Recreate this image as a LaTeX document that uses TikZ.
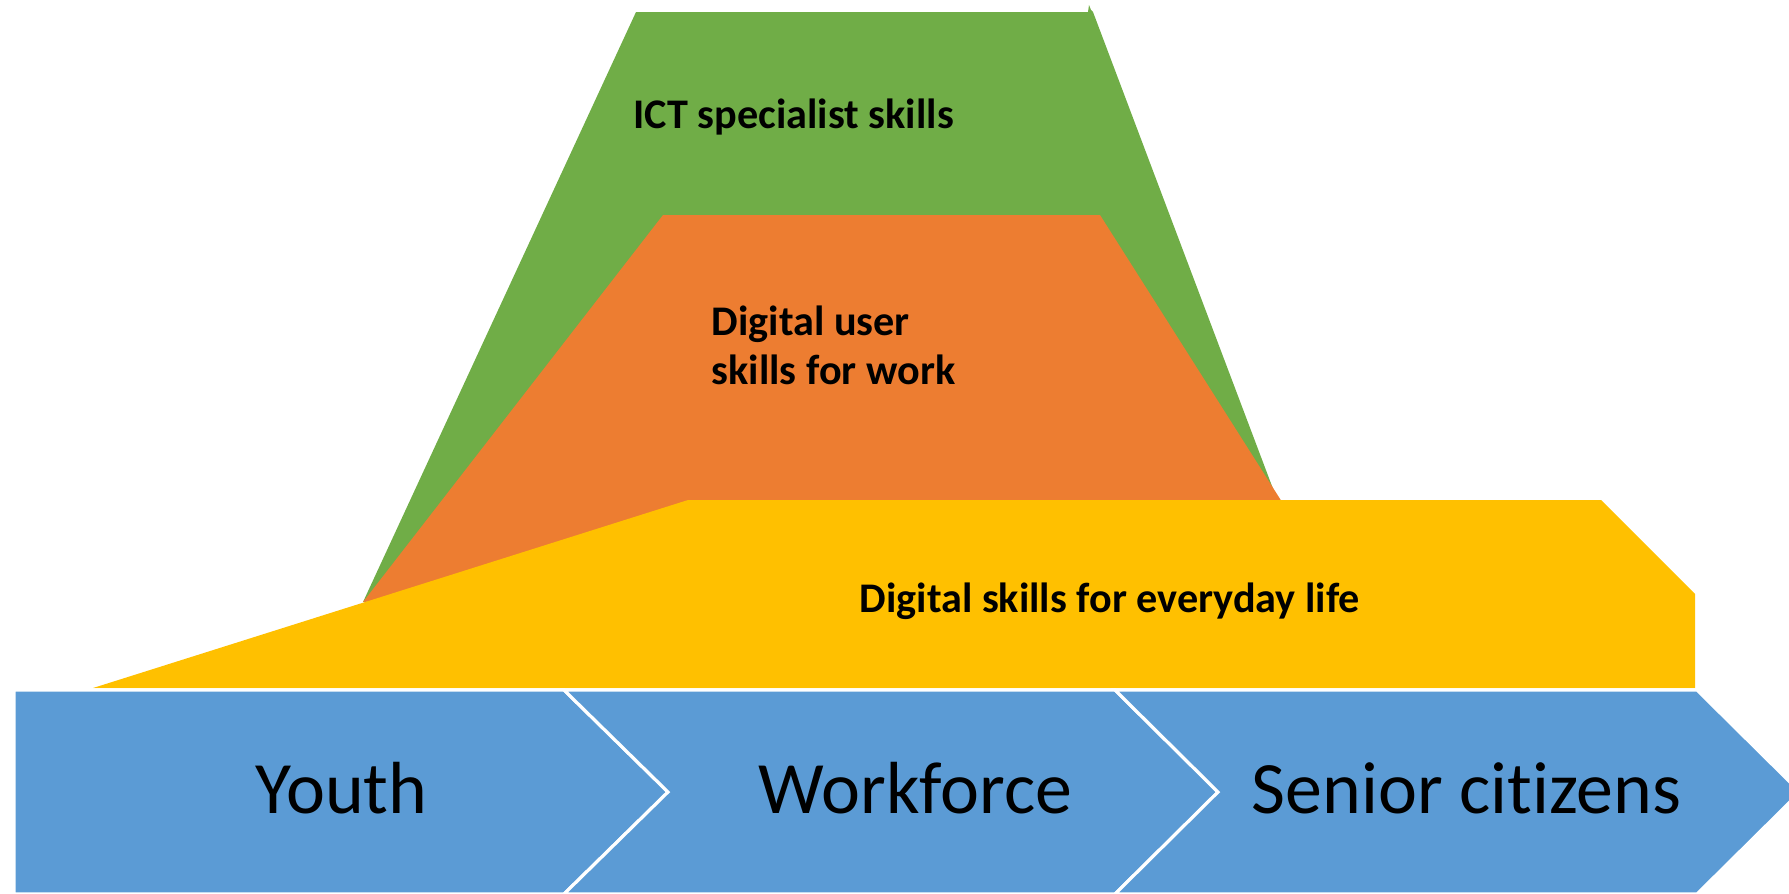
\documentclass[tikz,border=0pt]{standalone}
\usepackage{fontspec}
\setmainfont{Carlito}[Ligatures=NoCommon]
\definecolor{skillGreen}{RGB}{112, 173, 71}
\definecolor{skillOrange}{RGB}{237, 125, 49}
\definecolor{skillYellow}{RGB}{255, 192, 0}
\definecolor{groupBlue}{RGB}{91, 155, 213}

\begin{document}
\begin{tikzpicture}[x=0.01cm, y=-0.01cm,
    skilltext/.style={anchor=base west, inner sep=0pt, text=black, font=\fontsize{12}{13.7}\selectfont\bfseries},
    grouptext/.style={anchor=base west, inner sep=0pt, text=black, font=\fontsize{21}{24}\selectfont},
    chevron/.style={fill=groupBlue, draw=white, line width=0.9pt, line join=miter}]
    \useasboundingbox (0,0) rectangle (1789,893);
    \clip (0,0) rectangle (1789,893);

    % ICT layer
    \fill[skillGreen] (636,12) -- (1088,12) -- (1089,5) -- (1091,10) -- (1093,12) -- (1278,502) -- (363,602) -- cycle;

    % Digital user layer
    \fill[skillOrange] (663,215) -- (1100,215) -- (1282,502) -- (363,602) -- cycle;

    % Everyday layer
    \fill[skillYellow] (93,688) -- (688,500) -- (1601,500) -- (1695,594) -- (1695,688) -- cycle;

    % Groups at the bottom
    \filldraw[chevron] (14,690) -- (564,690) -- (668,792) -- (564,894) -- (14,894) -- cycle;
    \filldraw[chevron] (564,690) -- (1115,690) -- (1218,792) -- (1115,894) -- (564,894) -- (668,792) -- cycle;
    \filldraw[chevron] (1115,690) -- (1697,690) -- (1800,792) -- (1697,894) -- (1115,894) -- (1218,792) -- cycle;

    % Labels
    \node[skilltext] (ict) at (633,128) {ICT specialist skills};
    \node[skilltext, align=left] (user) at (711,384) {Digital user\\skills for work};
    \node[skilltext] (everyday) at (859,612) {Digital skills for everyday life};

    \node[grouptext] (youth) at (255,813) {Youth};
    \node[grouptext] (workforce) at (758,813) {Workforce};
    \node[grouptext] (senior) at (1251,813) {Senior citizens};
\end{tikzpicture}
\end{document}
